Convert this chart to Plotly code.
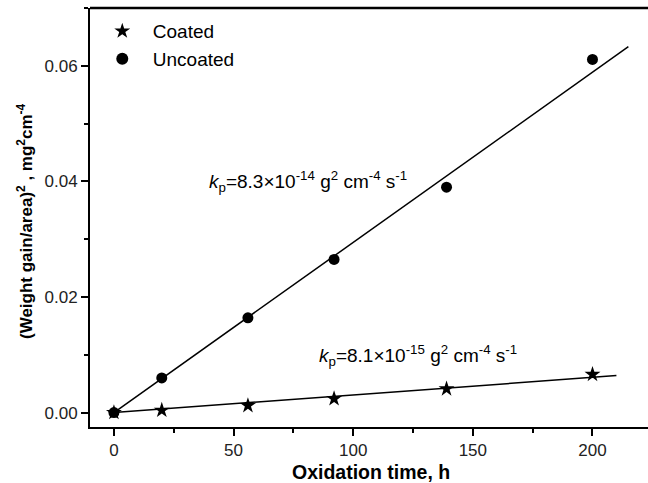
import plotly.graph_objects as go

# Data
time_h = [0, 20, 56, 92, 139, 200]
uncoated = [0.0, 0.0060, 0.0164, 0.0265, 0.0390, 0.0611]
coated = [0.0, 0.0004, 0.0012, 0.0024, 0.0041, 0.0066]

fit_uncoated_x = [0, 215]
fit_uncoated_y = [0.0, 0.0633]
fit_coated_x = [0, 210]
fit_coated_y = [0.0, 0.0064]

x_ticks = [0, 50, 100, 150, 200]
y_ticks = [0.00, 0.02, 0.04, 0.06]
y_tick_labels = ["0.00", "0.02", "0.04", "0.06"]

FONT = "Liberation Sans, Arial, sans-serif"
NB = "\u00a0"

fig = go.Figure()
fig.add_trace(go.Scatter(x=fit_uncoated_x, y=fit_uncoated_y, mode="lines",
                         line=dict(color="black", width=1.5), showlegend=False, hoverinfo="skip"))
fig.add_trace(go.Scatter(x=fit_coated_x, y=fit_coated_y, mode="lines",
                         line=dict(color="black", width=1.5), showlegend=False, hoverinfo="skip"))
fig.add_trace(go.Scatter(x=time_h, y=coated, mode="markers", name=NB * 2 + "Coated",
                         marker=dict(symbol="star", size=12, color="black")))
fig.add_trace(go.Scatter(x=time_h, y=uncoated, mode="markers", name=NB * 2 + "Uncoated",
                         marker=dict(symbol="circle", size=11, color="black")))

fig.add_annotation(x=38.8, y=0.0399, xref="x", yref="y", xanchor="left", yanchor="middle",
                   text="<i>k</i><sub>p</sub>=8.3×10<sup>-14</sup> g<sup>2</sup> cm<sup>-4</sup> s<sup>-1</sup>",
                   showarrow=False, font=dict(family=FONT, size=19, color="black"))
fig.add_annotation(x=84.7, y=0.0099, xref="x", yref="y", xanchor="left", yanchor="middle",
                   text="<i>k</i><sub>p</sub>=8.1×10<sup>-15</sup> g<sup>2</sup> cm<sup>-4</sup> s<sup>-1</sup>",
                   showarrow=False, font=dict(family=FONT, size=19, color="black"))

# X axis title placed as annotation (pixel-matched to reference)
fig.add_annotation(x=(371 - 90) / 558, y=-(471.7 - 427) / 419, xref="paper", yref="paper",
                   xanchor="center", yanchor="middle", text="<b>Oxidation time, h</b>",
                   showarrow=False, font=dict(family=FONT, size=19.5, color="black"))
# Y axis title
fig.add_annotation(x=-(90 - 25) / 558, y=(427 - 221) / 419, xref="paper", yref="paper",
                   xanchor="center", yanchor="middle", textangle=-90,
                   text="<b>(Weight gain/area)<sup>2</sup> , mg<sup>2</sup>cm<sup>-4</sup></b>",
                   showarrow=False, font=dict(family=FONT, size=17, color="black"))

fig.add_shape(type="line", xref="paper", yref="paper", x0=0, x1=1, y0=1, y1=1,
              line=dict(color="black", width=2.5))

fig.update_layout(
    width=648, height=483,
    margin=dict(l=90, r=0, t=8, b=56, autoexpand=False),
    paper_bgcolor="white", plot_bgcolor="white",
    font=dict(family=FONT, color="#222"),
    legend=dict(x=0.022, y=0.99, xanchor="left", yanchor="top",
                font=dict(family=FONT, size=19, color="black"),
                bgcolor="rgba(0,0,0,0)", tracegroupgap=0, itemsizing="constant"),
    showlegend=True,
)

fig.update_xaxes(range=[-10, 223.2], tickvals=x_ticks, ticks="outside", ticklen=7, tickwidth=1.5,
                 tickcolor="black", showline=True, linecolor="black", linewidth=2, mirror=False,
                 showgrid=False, zeroline=False, automargin=False,
                 tickfont=dict(family=FONT, size=17, color="#222"),
                 minor=dict(dtick=25, ticks="outside", ticklen=4, tickwidth=1.5, tickcolor="black", showgrid=False))
fig.update_yaxes(range=[-0.0025, 0.070], tickvals=y_ticks, ticktext=y_tick_labels, ticks="outside", ticklen=7,
                 tickwidth=1.5, tickcolor="black", showline=True, linecolor="black", linewidth=2,
                 mirror=False, showgrid=False, zeroline=False, automargin=False,
                 tickfont=dict(family=FONT, size=17, color="#222"),
                 minor=dict(dtick=0.01, tick0=0, ticks="outside", ticklen=4, tickwidth=1.5, tickcolor="black", showgrid=False))

fig.write_html("out.html", config={"displayModeBar": False},
               post_script="document.body.style.margin='0';document.body.style.overflow='hidden';")
